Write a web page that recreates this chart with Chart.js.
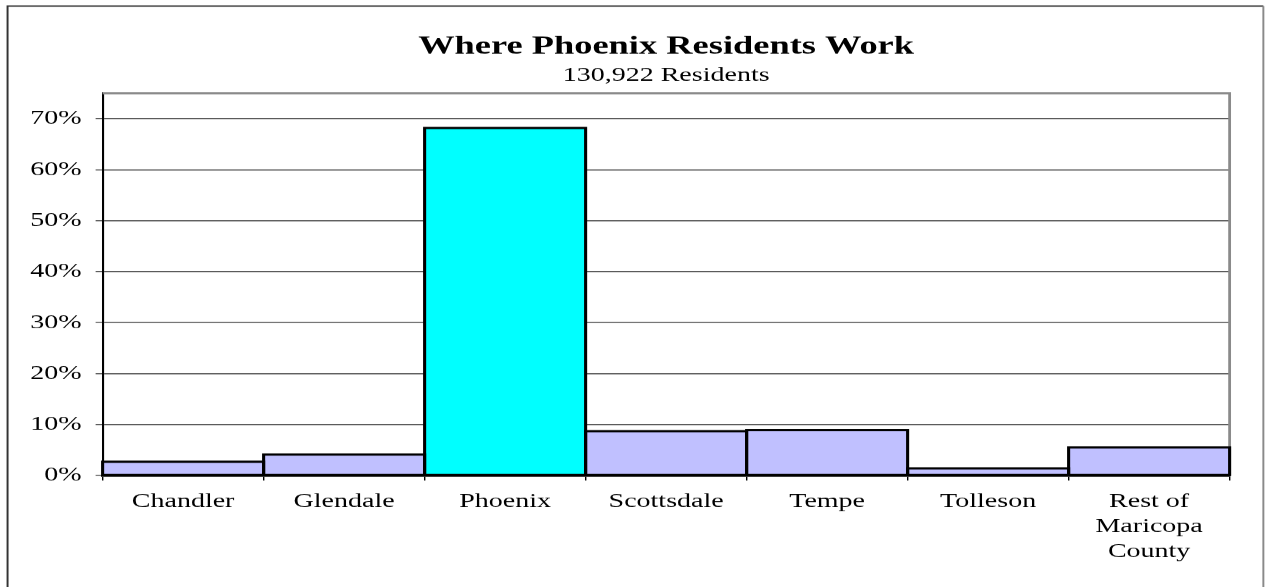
<!DOCTYPE html>
<html>
<head>
<meta charset="utf-8">
<script src="https://cdn.jsdelivr.net/npm/chart.js@4/dist/chart.umd.min.js"></script>
<style>
  html, body { margin: 0; padding: 0; background: #fff; }
  canvas { display: block; }
</style>
</head>
<body>
<canvas id="chart" width="904" height="587" style="width:1265px;height:587px"></canvas>
<script>
const cities = ["Chandler", "Glendale", "Phoenix", "Scottsdale", "Tempe", "Tolleson", ["Rest of", "Maricopa", "County"]];
const workShare = [2.7, 4.1, 68.2, 8.7, 8.9, 1.4, 5.5];
const yTicks = [0, 10, 20, 30, 40, 50, 60, 70];

const serif = "'Liberation Serif', 'Times New Roman', serif";
const lavender = "#C0C0FF";
const cyan = "#00FFFF";

// frame round the whole chart and the plot area, plus the bar outlines
const framePlugin = {
  id: "frame",
  beforeDatasetsDraw(chart) {
    const { ctx, chartArea: { top, bottom, left, right } } = chart;
    ctx.save();
    ctx.strokeStyle = "#8a8a8a";
    ctx.lineWidth = 2;
    ctx.beginPath();
    ctx.moveTo(left, top);
    ctx.lineTo(right, top);
    ctx.lineTo(right, bottom);
    ctx.stroke();
    ctx.restore();
  },
  afterDatasetsDraw(chart) {
    const ctx = chart.ctx;
    const meta = chart.getDatasetMeta(0);
    ctx.save();
    ctx.strokeStyle = "#000";
    ctx.lineWidth = 2.2;
    meta.data.forEach((bar) => {
      const { x, y, base, width } = bar.getProps(["x", "y", "base", "width"], true);
      ctx.strokeRect(x - width / 2, y, width, base - y);
    });
    ctx.restore();
  },
  afterDraw(chart) {
    const ctx = chart.ctx;
    ctx.save();
    ctx.lineWidth = 1.4;
    ctx.strokeStyle = "#333";
    ctx.beginPath();
    ctx.moveTo(5.4, chart.height + 5);
    ctx.lineTo(5.4, 6);
    ctx.lineTo(902.4, 6);
    ctx.stroke();
    ctx.strokeStyle = "#8a8a8a";
    ctx.beginPath();
    ctx.moveTo(902.4, 6);
    ctx.lineTo(902.4, chart.height + 5);
    ctx.stroke();
    ctx.restore();
  },
};

const ctx = document.getElementById("chart").getContext("2d");
const chart = new Chart(ctx, {
  type: "bar",
  data: {
    labels: cities,
    datasets: [
      {
        label: "Share of residents",
        data: workShare,
        backgroundColor: cities.map((c) => (c === "Phoenix" ? cyan : lavender)),
        borderWidth: 0,
        barPercentage: 1,
        categoryPercentage: 1,
      },
    ],
  },
  plugins: [framePlugin],
  options: {
    responsive: false,
    devicePixelRatio: 1.4,
    animation: false,
    layout: {
      padding: { left: 5, right: 25.7, top: 0, bottom: 0 },
    },
    plugins: {
      legend: { display: false },
      tooltip: { enabled: false },
      title: {
        display: true,
        text: "Where Phoenix Residents Work",
        color: "#000",
        fullSize: false,
        font: { family: serif, size: 26, weight: "bold" },
        padding: { top: 31, bottom: 1 },
      },
      subtitle: {
        display: true,
        text: "130,922 Residents",
        color: "#000",
        fullSize: false,
        font: { family: serif, size: 20, weight: "normal" },
        padding: { top: 0, bottom: 6 },
      },
    },
    scales: {
      x: {
        afterFit: (scale) => { scale.height = 112; },
        grid: {
          offset: true,
          drawOnChartArea: false,
          drawTicks: true,
          tickLength: 5,
          color: "#000",
        },
        border: { color: "#000", width: 2 },
        ticks: {
          color: "#000",
          maxRotation: 0,
          autoSkip: false,
          padding: 9,
          font: { family: serif, size: 20, lineHeight: 1.25 },
        },
      },
      y: {
        min: 0,
        max: 75,
        afterFit: (scale) => { scale.width = 68.3; },
        afterBuildTicks: (scale) => {
          scale.ticks = yTicks.map((v) => ({ value: v }));
        },
        grid: {
          color: "#4a4a4a",
          lineWidth: 1,
          drawTicks: true,
          tickLength: 5,
        },
        border: { color: "#000", width: 1.5 },
        ticks: {
          color: "#000",
          padding: 10,
          font: { family: serif, size: 20 },
          callback: (v) => v + "%",
        },
      },
    },
  },
});
</script>
</body>
</html>
